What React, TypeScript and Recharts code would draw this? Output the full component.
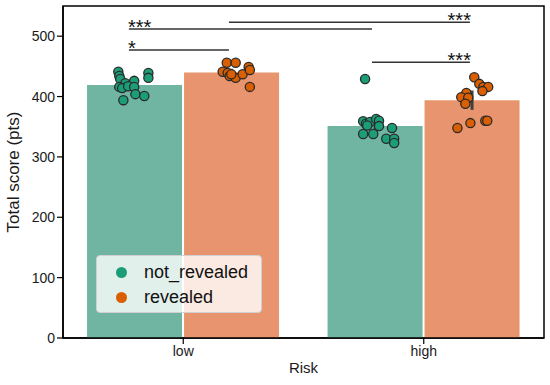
import React from 'react';
import {
  ComposedChart, Bar, Scatter, XAxis, YAxis, ErrorBar, ReferenceLine, ReferenceArea,
} from 'recharts';

const FONT = '"Liberation Sans", Arial, sans-serif';

const categories = ['low', 'high'];
const seriesNames = ['not_revealed', 'revealed'];
const notRevealedMean = [419, 351];
const revealedMean = [440, 394];
const notRevealedCI = [8, 9];
const revealedCI = [6, 16];
const yTicks = [0, 100, 200, 300, 400, 500];

// individual scores, x is the position on the category axis (0 = low, 1 = high) incl. jitter
const notRevealedPoints = [
  { x: -0.27, y: 441 }, { x: -0.266, y: 434 }, { x: -0.262, y: 429 }, { x: -0.241, y: 422 },
  { x: -0.204, y: 426 }, { x: -0.145, y: 439 }, { x: -0.145, y: 431 }, { x: -0.266, y: 416 },
  { x: -0.254, y: 414 }, { x: -0.229, y: 417 }, { x: -0.204, y: 416 }, { x: -0.199, y: 404 },
  { x: -0.162, y: 401 }, { x: -0.249, y: 394 },
  { x: 0.756, y: 429 }, { x: 0.748, y: 359 }, { x: 0.76, y: 355 }, { x: 0.777, y: 358 },
  { x: 0.802, y: 363 }, { x: 0.814, y: 360 }, { x: 0.814, y: 351 }, { x: 0.868, y: 348 },
  { x: 0.748, y: 338 }, { x: 0.79, y: 338 }, { x: 0.844, y: 330 }, { x: 0.877, y: 330 },
  { x: 0.877, y: 323 }, { x: 0.765, y: 352 },
];
const revealedPoints = [
  { x: 0.181, y: 456 }, { x: 0.218, y: 456 }, { x: 0.164, y: 441 }, { x: 0.185, y: 439 },
  { x: 0.193, y: 434 }, { x: 0.218, y: 431 }, { x: 0.247, y: 437 }, { x: 0.272, y: 449 },
  { x: 0.277, y: 444 }, { x: 0.277, y: 416 }, { x: 0.2, y: 437 },
  { x: 1.21, y: 432 }, { x: 1.231, y: 421 }, { x: 1.248, y: 416 }, { x: 1.268, y: 416 },
  { x: 1.244, y: 409 }, { x: 1.177, y: 406 }, { x: 1.156, y: 399 }, { x: 1.185, y: 398 },
  { x: 1.173, y: 388 }, { x: 1.14, y: 348 }, { x: 1.194, y: 356 }, { x: 1.256, y: 360 },
  { x: 1.264, y: 360 },
];

// significance brackets
const brackets = [
  { x1: -0.226, x2: 0.785, y: 512, text: '***', align: 'left' },
  { x1: 0.19, x2: 1.192, y: 523, text: '***', align: 'right' },
  { x1: -0.226, x2: 0.19, y: 477, text: '*', align: 'left' },
  { x1: 0.785, x2: 1.192, y: 457, text: '***', align: 'right' },
];

const barColors = ['#70b5a1', '#e8956f'];
const dotColors = ['#1b9e77', '#d95f02'];

const data = categories.map((cat, i) => ({
  cat,
  nr: notRevealedMean[i],
  r: revealedMean[i],
  nrErr: notRevealedCI[i],
  rErr: revealedCI[i],
}));

const dot = (color: string) => (props: any) => (
  <circle cx={props.cx} cy={props.cy} r={4.6} fill={color} stroke="#2a2a2a" strokeWidth={1.3} />
);

const YLabel = (props: any) => {
  const { x, y, height } = props.viewBox;
  const cx = x + 13;
  const cy = y + height / 2;
  return (
    <text x={cx} y={cy} transform={`rotate(-90 ${cx} ${cy})`} textAnchor="middle"
      dominantBaseline="central" fontSize={17} fill="#1a1a1a" fontFamily={FONT}>
      Total score (pts)
    </text>
  );
};

const XLabel = (props: any) => {
  const { x, y, width } = props.viewBox;
  return (
    <text x={x + width / 2} y={y + 35} textAnchor="middle" fontSize={15} fill="#1a1a1a" fontFamily={FONT}>
      Risk
    </text>
  );
};

const starLabel = (text: string, align: string) => (props: any) => {
  const { x, y, width } = props.viewBox;
  return (
    <text x={align === 'left' ? x - 1 : x + width + 1} y={y + 5} textAnchor={align === 'left' ? 'start' : 'end'}
      fontSize={20} fill="#111" fontFamily={FONT}>
      {text}
    </text>
  );
};

export default function App() {
  return (
    <div style={{ position: 'absolute', left: 0, top: 0, width: 550, height: 385, background: '#fff', fontFamily: FONT }}>
      <ComposedChart width={550} height={385} data={data} barCategoryGap="10%" barGap={2}
        margin={{ top: 6, right: 6, left: 0, bottom: 0 }}>
        <XAxis xAxisId="cat" dataKey="cat" height={47} tickSize={6}
          axisLine={{ stroke: '#000', strokeWidth: 1.5 }} tickLine={{ stroke: '#000', strokeWidth: 1.2 }}
          tick={{ fontSize: 14, fill: '#1a1a1a', fontFamily: FONT }} label={<XLabel />} />
        <XAxis xAxisId="num" type="number" dataKey="x" domain={[-0.5, 1.5]} hide allowDataOverflow />
        <YAxis domain={[0, 550]} ticks={yTicks} width={63} tickSize={6} allowDataOverflow
          axisLine={{ stroke: '#000', strokeWidth: 1.5 }} tickLine={{ stroke: '#000', strokeWidth: 1.2 }}
          tick={{ fontSize: 14, fill: '#1a1a1a', fontFamily: FONT }} label={<YLabel />} />
        <Bar xAxisId="cat" dataKey="nr" name={seriesNames[0]} fill={barColors[0]} isAnimationActive={false}>
          <ErrorBar dataKey="nrErr" width={0} strokeWidth={3} stroke="#404040" direction="y" />
        </Bar>
        <Bar xAxisId="cat" dataKey="r" name={seriesNames[1]} fill={barColors[1]} isAnimationActive={false}>
          <ErrorBar dataKey="rErr" width={0} strokeWidth={3} stroke="#404040" direction="y" />
        </Bar>
        <Scatter xAxisId="num" data={notRevealedPoints} dataKey="y" name={seriesNames[0]}
          shape={dot(dotColors[0])} isAnimationActive={false} />
        <Scatter xAxisId="num" data={revealedPoints} dataKey="y" name={seriesNames[1]}
          shape={dot(dotColors[1])} isAnimationActive={false} />
        {brackets.map((b, i) => (
          <ReferenceLine key={i} xAxisId="num" ifOverflow="visible"
            segment={[{ x: b.x1, y: b.y }, { x: b.x2, y: b.y }]}
            stroke="#333" strokeWidth={1.5} label={starLabel(b.text, b.align)} />
        ))}
        <ReferenceArea xAxisId="num" x1={-0.5} x2={1.5} y1={0} y2={550} fill="none"
          stroke="#000" strokeWidth={1.5} fillOpacity={0} ifOverflow="visible" />
      </ComposedChart>
      <div style={{
        position: 'absolute', left: 96, top: 255, width: 166, height: 58, boxSizing: 'border-box',
        background: 'rgba(255,255,255,0.8)', border: '1px solid #d0d0d0', borderRadius: 4,
        padding: '4px 0 0 19px',
      }}>
        {seriesNames.map((name, i) => (
          <div key={name} style={{ display: 'flex', alignItems: 'center', height: 25, fontSize: 18, color: '#111' }}>
            <span style={{ width: 11, height: 11, borderRadius: '50%', background: dotColors[i], marginRight: 17 }} />
            {name}
          </div>
        ))}
      </div>
    </div>
  );
}
